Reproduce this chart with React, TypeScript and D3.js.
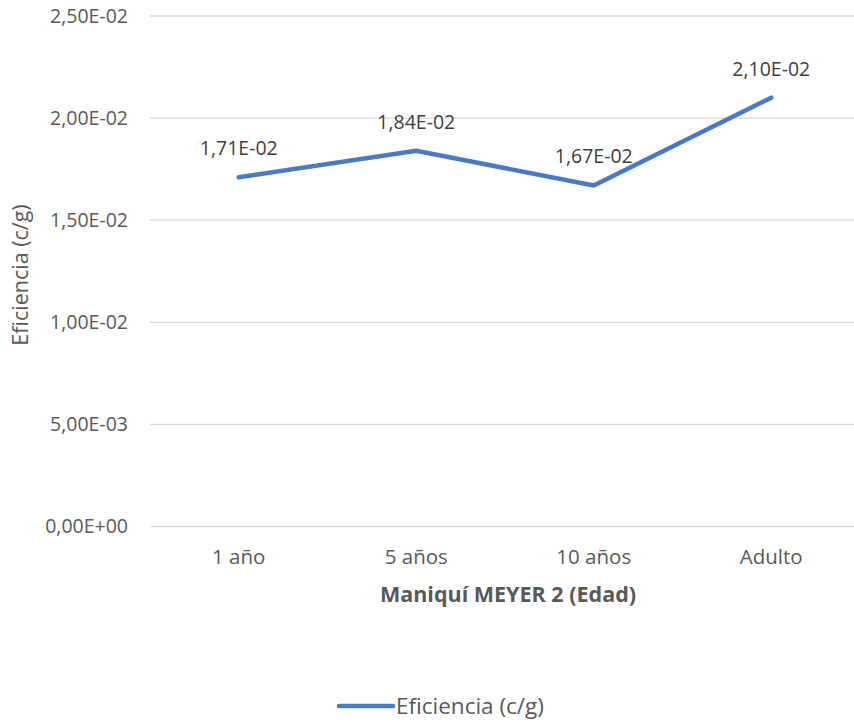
import React from "react";
import * as d3 from "d3";

const categories = ["1 año", "5 años", "10 años", "Adulto"];
const values = [0.0171, 0.0184, 0.0167, 0.021];
const yTicks = [0, 0.005, 0.01, 0.015, 0.02, 0.025];
const seriesName = "Eficiencia (c/g)";
const xTitle = "Maniquí MEYER 2 (Edad)";
const yTitle = "Eficiencia (c/g)";

const W = 854;
const H = 722;
const FONT = "'Open Sans', 'Liberation Sans', sans-serif";
const TXT = "#595959";
const LINE = "#4a7bc0";

function fmt(v: number): string {
  const s = v.toExponential(2);
  const [m, e] = s.split("e");
  const exp = parseInt(e, 10);
  const sign = exp < 0 ? "-" : "+";
  const ee = String(Math.abs(exp)).padStart(2, "0");
  return m.replace(".", ",") + "E" + sign + ee;
}

export default function App() {
  const left = 150;
  const right = 860;
  const top = 16;
  const bottom = 526.5;
  const x = d3.scaleBand<string>().domain(categories).range([left, right]);
  const y = d3.scaleLinear().domain([0, 0.025]).range([bottom, top]);
  const cx = (c: string) => (x(c) as number) + x.bandwidth() / 2;
  const line = d3
    .line<number>()
    .x((_, i) => cx(categories[i]))
    .y((d) => y(d));

  return (
    <svg
      width={W}
      height={H}
      style={{ position: "absolute", left: 0, top: 0, background: "#fff" }}
      fontFamily={FONT}
    >
      {yTicks.map((t) => (
        <g key={t}>
          <line x1={left} x2={W} y1={y(t)} y2={y(t)} stroke="#d9d9d9" strokeWidth={1.3} />
          <text x={128} y={y(t)} dy="0.35em" textAnchor="end" fontSize={19.5} fill={TXT}>
            {fmt(t)}
          </text>
        </g>
      ))}
      {categories.map((c) => (
        <text key={c} x={cx(c)} y={557} dy="0.35em" textAnchor="middle" fontSize={20.5} fill={TXT}>
          {c}
        </text>
      ))}
      <text x={(left + right) / 2 + 3} y={594} dy="0.35em" textAnchor="middle" fontSize={21.5} fontWeight="bold" fill={TXT}>
        {xTitle}
      </text>
      <text
        transform={`translate(20, 275) rotate(-90)`}
        dy="0.35em"
        textAnchor="middle"
        fontSize={21.5}
        fill={TXT}
      >
        {yTitle}
      </text>
      <path d={line(values) || ""} fill="none" stroke={LINE} strokeWidth={4.5} strokeLinecap="round" strokeLinejoin="round" />
      {values.map((v, i) => (
        <text key={i} x={cx(categories[i])} y={y(v) - 29} dy="0.35em" textAnchor="middle" fontSize={19.5} fill="#404040">
          {fmt(v)}
        </text>
      ))}
      <line x1={339} x2={393} y1={706} y2={706} stroke={LINE} strokeWidth={4.5} strokeLinecap="round" />
      <text x={396} y={706} dy="0.35em" fontSize={22.5} fill={TXT}>
        {seriesName}
      </text>
    </svg>
  );
}
